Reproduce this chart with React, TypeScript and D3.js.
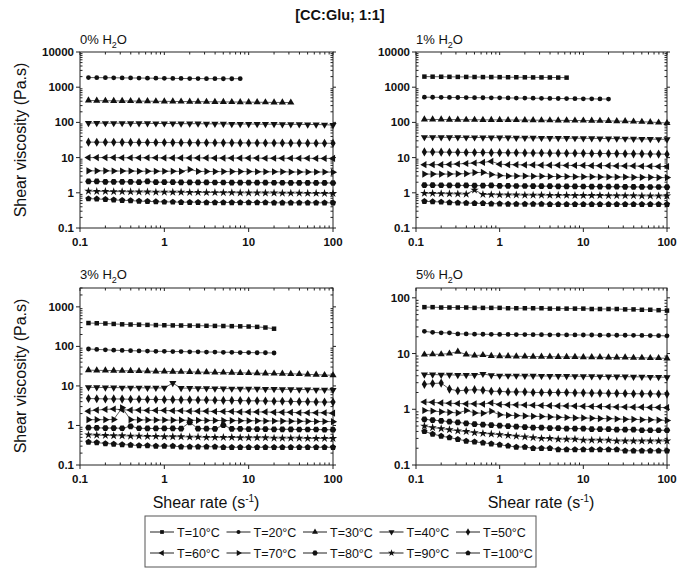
import React from 'react'
import * as d3 from 'd3'

// shear rate sweep (s^-1), ~10 points per decade
const shearRate = [0.126, 0.158, 0.2, 0.251, 0.316, 0.398, 0.501, 0.631, 0.794, 1, 1.26, 1.58, 2, 2.51, 3.16, 3.98, 5.01, 6.31, 7.94, 10, 12.6, 15.8, 20, 25.1, 31.6, 39.8, 50.1, 63.1, 79.4, 100]

const temperatures = ['T=10°C', 'T=20°C', 'T=30°C', 'T=40°C', 'T=50°C', 'T=60°C', 'T=70°C', 'T=80°C', 'T=90°C', 'T=100°C']

const xTicks = [0.1, 1, 10, 100]

// viscosity (Pa.s), one row per temperature; null = not measured
const water0 = [
  null,
  [1880, 1870, 1860, 1850, 1840, 1830, 1820, 1810, 1800, 1790, 1780, 1770, 1760, 1760, 1750, 1750, 1740, 1740, 1750],
  [420, 415, 412, 410, 407, 405, 402, 400, 398, 396, 394, 392, 390, 388, 386, 384, 382, 380, 378, 376, 374, 372, 370, 368, 366],
  [96, 96, 95, 95, 95, 94, 94, 94, 93, 93, 93, 92, 92, 92, 91, 91, 91, 90, 90, 90, 89, 89, 89, 88, 88, 88, 87, 87, 86, 84],
  [27.5, 27.4, 27.3, 27.2, 27.1, 27, 27, 26.9, 26.8, 26.8, 26.7, 26.6, 26.6, 26.5, 26.4, 26.4, 26.3, 26.3, 26.2, 26.1, 26.1, 26, 26, 25.9, 25.8, 25.8, 25.7, 25.6, 25.6, 25.5],
  [10, 10, 10, 10, 9.9, 9.9, 9.9, 9.9, 9.9, 9.8, 9.8, 9.8, 9.8, 9.8, 9.8, 9.7, 9.7, 9.7, 9.7, 9.7, 9.7, 9.6, 9.6, 9.6, 9.6, 9.6, 9.6, 9.5, 9.5, 9.5],
  [4.2, 4.2, 4.2, 4.15, 4.15, 4.15, 4.1, 4.1, 4.1, 4.1, 4.1, 4.05, 4.6, 4.05, 4.05, 4, 4, 4, 4, 4, 3.95, 3.95, 3.95, 3.95, 3.9, 3.9, 3.9, 3.9, 3.9, 3.85],
  [2.1, 2.1, 2.05, 2.05, 2.05, 2.05, 2, 2.1, 2, 2, 2, 1.98, 1.98, 1.97, 1.97, 1.96, 1.96, 1.95, 1.95, 1.95, 1.94, 1.94, 1.93, 1.93, 1.92, 1.92, 1.92, 1.91, 1.91, 1.9],
  [1.12, 1.1, 1.1, 1.08, 1.08, 1.07, 1.06, 1.06, 1.05, 1.05, 1.04, 1.04, 1.03, 1.03, 1.02, 1.02, 1.01, 1.01, 1, 1, 1, 0.99, 0.99, 0.98, 0.98, 0.98, 0.97, 0.97, 0.96, 0.96],
  [0.68, 0.67, 0.65, 0.63, 0.61, 0.6, 0.58, 0.57, 0.56, 0.55, 0.55, 0.54, 0.54, 0.54, 0.53, 0.53, 0.53, 0.53, 0.53, 0.53, 0.53, 0.53, 0.52, 0.52, 0.52, 0.52, 0.52, 0.52, 0.52, 0.52],
]

const water1 = [
  [2000, 1990, 1980, 1970, 1960, 1960, 1950, 1940, 1940, 1930, 1920, 1920, 1910, 1900, 1900, 1890, 1880, 1870],
  [520, 518, 515, 512, 510, 508, 505, 502, 500, 498, 495, 492, 490, 487, 484, 481, 478, 475, 472, 469, 466, 463, 460],
  [122, 121, 121, 120, 120, 119, 119, 118, 118, 118, 117, 117, 116, 116, 115, 115, 114, 114, 113, 113, 112, 111, 110, 109, 108, 106, 104, 102, 99, 96],
  [38, 38, 37.8, 37.6, 37.5, 37.4, 37.3, 37.2, 37, 36.9, 36.8, 36.6, 36.5, 36.4, 36.2, 36, 35.9, 35.7, 35.6, 35.4, 35.2, 35, 34.8, 34.6, 34.4, 34.2, 33.9, 33.6, 33.3, 33],
  [14.5, 14.4, 14.3, 14.2, 14.1, 14, 14, 13.9, 13.8, 13.8, 13.7, 13.7, 13.6, 13.5, 13.5, 13.4, 13.4, 13.3, 13.3, 13.2, 13.1, 13.1, 13, 13, 12.9, 12.8, 12.8, 12.7, 12.6, 12.5],
  [6.3, 6.3, 6.3, 6.4, 6.6, 6.8, 7, 7.3, 7.8, 6.5, 6.3, 6.3, 6.2, 6.2, 6.1, 6.1, 6.1, 6, 6, 6, 5.9, 5.9, 5.9, 5.8, 5.8, 5.8, 5.7, 5.7, 5.6, 5.6],
  [3.4, 3.4, 3.4, 3.4, 3.45, 3.5, 3.75, 3.8, 3.3, 3.1, 3, 3, 3, 2.95, 2.95, 2.9, 2.9, 2.9, 2.85, 2.85, 2.85, 2.8, 2.8, 2.8, 2.8, 2.75, 2.75, 2.75, 2.7, 2.7],
  [1.65, 1.65, 1.64, 1.63, 1.62, 1.62, 1.6, 1.6, 1.62, 1.58, 1.57, 1.56, 1.56, 1.55, 1.54, 1.54, 1.53, 1.52, 1.52, 1.51, 1.5, 1.5, 1.49, 1.49, 1.48, 1.47, 1.47, 1.46, 1.46, 1.45],
  [0.97, 0.96, 0.95, 0.94, 0.93, 0.92, 1.2, 0.9, 0.89, 0.88, 0.87, 0.87, 0.86, 0.86, 0.86, 0.85, 0.85, 0.85, 0.84, 0.84, 0.84, 0.84, 0.83, 0.83, 0.83, 0.83, 0.82, 0.82, 0.82, 0.82],
  [0.57, 0.56, 0.55, 0.53, 0.52, 0.51, 0.5, 0.5, 0.49, 0.49, 0.48, 0.48, 0.48, 0.48, 0.48, 0.47, 0.47, 0.47, 0.47, 0.47, 0.47, 0.47, 0.47, 0.47, 0.47, 0.47, 0.47, 0.47, 0.47, 0.47],
]

const water3 = [
  [390, 385, 380, 370, 362, 358, 355, 350, 346, 343, 340, 338, 336, 334, 332, 330, 328, 325, 322, 318, 312, 300, 280],
  [86, 84, 82, 80, 79, 78, 77, 76, 75, 75, 74, 74, 73, 73, 72, 72, 71, 71, 70, 70, 69, 69, 68],
  [25, 24.8, 24.6, 24.4, 24.2, 24, 23.8, 23.6, 23.4, 23.2, 23, 22.8, 22.6, 22.4, 22.2, 22, 21.8, 21.6, 21.4, 21.2, 21, 20.8, 20.6, 20.4, 20.2, 20, 19.6, 19.2, 18.9, 18.6],
  [9.2, 9.2, 9.1, 9.1, 9, 9, 9, 8.9, 8.9, 8.9, 11.8, 8.8, 8.8, 8.7, 8.7, 8.6, 8.6, 8.5, 8.5, 8.4, 8.4, 8.3, 8.3, 8.2, 8.2, 8.1, 8.1, 8, 8, 7.9],
  [4.8, 4.75, 4.7, 4.7, 4.65, 4.6, 4.6, 4.55, 4.55, 4.5, 4.5, 4.45, 4.45, 4.4, 4.4, 4.35, 4.3, 4.3, 4.25, 4.2, 4.2, 4.15, 4.1, 4.1, 4.05, 4, 4, 3.95, 3.9, 3.9],
  [2.3, 2.45, 2.55, 2.6, 2.5, 2.45, 2.45, 2.4, 2.4, 2.4, 2.35, 2.35, 2.3, 2.3, 2.3, 2.25, 2.25, 2.25, 2.2, 2.2, 2.2, 2.2, 2.15, 2.15, 2.15, 2.1, 2.1, 2.1, 2.1, 2.05],
  [1.4, 1.4, 1.4, 1.42, 2.8, 1.4, 1.38, 1.38, 1.37, 1.37, 1.36, 1.36, 1.35, 1.35, 1.34, 1.34, 1.33, 1.33, 1.32, 1.32, 1.31, 1.3, 1.3, 1.29, 1.28, 1.28, 1.27, 1.26, 1.26, 1.25],
  [0.88, 0.87, 0.86, 0.86, 0.85, 0.95, 0.85, 0.84, 0.84, 0.84, 0.84, 0.83, 1.2, 0.83, 0.83, 0.82, 1.02, 0.82, 0.82, 0.81, 0.81, 0.81, 0.8, 0.8, 0.8, 0.79, 0.79, 0.79, 0.78, 0.78],
  [0.58, 0.57, 0.56, 0.55, 0.55, 0.54, 0.54, 0.53, 0.53, 0.52, 0.52, 0.52, 0.51, 0.51, 0.5, 0.5, 0.5, 0.5, 0.49, 0.49, 0.49, 0.49, 0.48, 0.48, 0.48, 0.48, 0.47, 0.47, 0.47, 0.47],
  [0.38, 0.37, 0.35, 0.34, 0.33, 0.32, 0.31, 0.31, 0.3, 0.3, 0.3, 0.29, 0.29, 0.29, 0.29, 0.29, 0.28, 0.28, 0.28, 0.28, 0.28, 0.28, 0.28, 0.28, 0.28, 0.28, 0.28, 0.28, 0.28, 0.28],
]

const water5 = [
  [68, 68, 67, 67, 67, 67, 66, 66, 66, 66, 65, 65, 65, 65, 65, 64, 64, 64, 64, 64, 63, 63, 63, 63, 62, 62, 61, 61, 60, 59],
  [25, 24, 23.5, 23.5, 22.5, 22.5, 22.3, 22.2, 22.1, 22, 22, 21.9, 21.9, 21.8, 21.8, 21.7, 21.7, 21.6, 21.6, 21.5, 21.5, 21.4, 21.4, 21.3, 21.3, 21.2, 21.1, 21, 20.9, 20.8],
  [9.6, 9.7, 9.7, 10, 10.8, 9.6, 9.2, 9.4, 9.1, 9, 9, 8.9, 8.9, 8.8, 8.8, 8.8, 8.7, 8.7, 8.7, 8.6, 8.6, 8.6, 8.5, 8.5, 8.5, 8.4, 8.4, 8.3, 8.3, 8.2],
  [4.2, 4.2, 4.15, 4.15, 4.1, 4.1, 4.1, 4.3, 4.05, 4, 4, 4, 3.98, 3.97, 3.96, 3.95, 3.94, 3.93, 3.92, 3.9, 3.9, 3.88, 3.87, 3.86, 3.85, 3.83, 3.82, 3.8, 3.78, 3.75],
  [2.8, 2.9, 2.95, 2.3, 2.15, 2.2, 2.25, 2.2, 2.1, 2.1, 2.05, 2.05, 2.05, 2, 2, 2, 2, 2, 1.97, 1.97, 1.95, 1.95, 1.93, 1.93, 1.92, 1.9, 1.9, 1.9, 1.88, 1.87],
  [1.35, 1.33, 1.3, 1.28, 1.27, 1.25, 1.25, 1.24, 1.3, 1.22, 1.2, 1.2, 1.19, 1.18, 1.17, 1.16, 1.15, 1.15, 1.14, 1.13, 1.12, 1.12, 1.11, 1.1, 1.1, 1.09, 1.09, 1.08, 1.08, 1.07],
  [0.95, 0.93, 0.9, 0.88, 0.86, 0.95, 0.86, 0.85, 0.92, 0.8, 0.78, 0.77, 0.76, 0.75, 0.74, 0.73, 0.72, 0.71, 0.7, 0.7, 0.69, 0.68, 0.68, 0.67, 0.66, 0.66, 0.65, 0.65, 0.64, 0.63],
  [0.66, 0.64, 0.62, 0.6, 0.58, 0.56, 0.54, 0.53, 0.52, 0.51, 0.5, 0.49, 0.48, 0.47, 0.47, 0.46, 0.46, 0.45, 0.45, 0.45, 0.44, 0.44, 0.44, 0.43, 0.43, 0.43, 0.42, 0.42, 0.42, 0.42],
  [0.5, 0.47, 0.45, 0.43, 0.41, 0.4, 0.38, 0.37, 0.36, 0.35, 0.34, 0.33, 0.32, 0.31, 0.3, 0.3, 0.29, 0.29, 0.29, 0.28, 0.28, 0.28, 0.28, 0.27, 0.27, 0.27, 0.27, 0.27, 0.27, 0.27],
  [0.4, 0.36, 0.33, 0.31, 0.29, 0.27, 0.26, 0.25, 0.24, 0.23, 0.22, 0.21, 0.21, 0.2, 0.2, 0.2, 0.19, 0.19, 0.19, 0.19, 0.19, 0.19, 0.19, 0.19, 0.18, 0.18, 0.18, 0.18, 0.18, 0.18],
]

const font = '"Liberation Sans", Arial, sans-serif'

// custom polygon symbols (hexagon, pentagon)
const polygon = (n: number, rot: number) => ({
  draw(ctx: any, size: number) {
    const r = Math.sqrt(size / (0.5 * n * Math.sin((2 * Math.PI) / n)))
    for (let i = 0; i < n; i++) {
      const a = rot + (i * 2 * Math.PI) / n
      const x = r * Math.sin(a), y = -r * Math.cos(a)
      if (i === 0) ctx.moveTo(x, y)
      else ctx.lineTo(x, y)
    }
    ctx.closePath()
  },
})

// marker per temperature: [symbol type, rotation, size]
const markers: [any, number, number][] = [
  [d3.symbolSquare, 0, 20],
  [d3.symbolCircle, 0, 18],
  [d3.symbolTriangle, 0, 22],
  [d3.symbolTriangle, 180, 22],
  [d3.symbolDiamond, 0, 24],
  [d3.symbolTriangle, -90, 22],
  [d3.symbolTriangle, 90, 22],
  [polygon(6, Math.PI / 6), 0, 28],
  [d3.symbolStar, 0, 22],
  [polygon(5, 0), 0, 26],
]

const Marker = ({ t, x, y, scale = 1 }: { t: number; x: number; y: number; scale?: number }) => {
  const [type, rot, size] = markers[t]
  const d = d3.symbol().type(type).size(size * scale)()
  return <path d={d || ''} transform={`translate(${x},${y}) rotate(${rot})`} fill="#111" />
}

const Panel = ({ p }: { p: any }) => {
  const x = d3.scaleLog().domain([0.1, 100]).range([p.x0, p.x1])
  const y = d3.scaleLog().domain([0.1, p.yMax]).range([p.y1, p.y0])
  const line = d3.line<number>().x((_, i) => x(shearRate[i])).y((v) => y(v))

  const yMajor = y.ticks().filter((v) => Math.abs(Math.log10(v) - Math.round(Math.log10(v))) < 1e-6)
  const yMinor = y.ticks().filter((v) => !yMajor.includes(v))
  const xMinor = x.ticks().filter((v) => !xTicks.includes(v))

  return (
    <g>
      <text x={p.x0} y={p.labelY} fontFamily={font} fontSize={13} fill="#111">
        {p.label}% H<tspan fontSize={9} dy={4}>2</tspan><tspan dy={-4}>O</tspan>
      </text>
      <g stroke="#222" strokeWidth={1}>
        {yMajor.map((v) => (
          <g key={'ym' + v}>
            <line x1={p.x0 - 4} x2={p.x0} y1={y(v)} y2={y(v)} />
            <line x1={p.x1} x2={p.x1 + 3} y1={y(v)} y2={y(v)} />
          </g>
        ))}
        {yMinor.map((v) => (
          <g key={'yn' + v}>
            <line x1={p.x0} x2={p.x0 + 2.5} y1={y(v)} y2={y(v)} />
            <line x1={p.x1 - 2.5} x2={p.x1} y1={y(v)} y2={y(v)} />
          </g>
        ))}
        {xTicks.map((v) => (
          <g key={'xm' + v}>
            <line x1={x(v)} x2={x(v)} y1={p.y1} y2={p.y1 + 4} />
            <line x1={x(v)} x2={x(v)} y1={p.y0} y2={p.y0 + 3} />
          </g>
        ))}
        {xMinor.map((v) => (
          <g key={'xn' + v}>
            <line x1={x(v)} x2={x(v)} y1={p.y1} y2={p.y1 - 2.5} />
            <line x1={x(v)} x2={x(v)} y1={p.y0} y2={p.y0 + 2.5} />
          </g>
        ))}
      </g>
      <rect x={p.x0} y={p.y0} width={p.x1 - p.x0} height={p.y1 - p.y0} fill="none" stroke="#222" strokeWidth={1} />
      {yMajor.map((v) => (
        <text key={'yl' + v} x={p.x0 - 6} y={y(v) + 4} textAnchor="end" fontFamily={font} fontWeight="bold" fontSize={11.5} fill="#111">
          {String(v)}
        </text>
      ))}
      {xTicks.map((v) => (
        <text key={'xl' + v} x={x(v)} y={p.y1 + 18} textAnchor="middle" fontFamily={font} fontWeight="bold" fontSize={11.5} fill="#111">
          {String(v)}
        </text>
      ))}
      {p.data.map((s: number[] | null, t: number) =>
        s ? (
          <g key={'s' + t}>
            <path d={line(s) || ''} fill="none" stroke="#333" strokeWidth={0.8} />
            {s.map((v, i) => (
              <Marker key={i} t={t} x={x(shearRate[i])} y={y(v)} />
            ))}
          </g>
        ) : null
      )}
    </g>
  )
}

const panels = [
  { label: '0', data: water0, yMax: 10000, x0: 80, x1: 333, y0: 52, y1: 228, labelY: 44 },
  { label: '1', data: water1, yMax: 10000, x0: 416, x1: 667, y0: 52, y1: 228, labelY: 44 },
  { label: '3', data: water3, yMax: 3000, x0: 80, x1: 333, y0: 288, y1: 465, labelY: 279 },
  { label: '5', data: water5, yMax: 150, x0: 416, x1: 667, y0: 288, y1: 465, labelY: 279 },
]

export default function App() {
  const legX = 145, legY = 516, legW = 391, legH = 51
  return (
    <svg width={679} height={572} style={{ position: 'absolute', left: 0, top: 0, background: '#fff' }}>
      <rect width={679} height={572} fill="#fff" />
      <text x={340} y={20} textAnchor="middle" fontFamily={font} fontWeight="bold" fontSize={14.5} fill="#111">
        [CC:Glu; 1:1]
      </text>
      {panels.map((p) => (
        <Panel key={p.label} p={p} />
      ))}
      {[140, 376].map((cy) => (
        <text key={cy} transform={`translate(26,${cy}) rotate(-90)`} textAnchor="middle" fontFamily={font} fontSize={16} fill="#111">
          Shear viscosity (Pa.s)
        </text>
      ))}
      {[206, 541].map((cx) => (
        <text key={cx} x={cx} y={508} textAnchor="middle" fontFamily={font} fontSize={16} fill="#111">
          Shear rate (s<tspan fontSize={10} dy={-6}>-1</tspan><tspan dy={6}>)</tspan>
        </text>
      ))}
      <rect x={legX} y={legY} width={legW} height={legH} fill="#fff" stroke="#555" strokeWidth={1} />
      {temperatures.map((name, t) => {
        const col = t % 5, row = Math.floor(t / 5)
        const lx = 150 + col * 76.5
        const ly = 532 + row * 21
        return (
          <g key={name}>
            <line x1={lx} x2={lx + 24} y1={ly} y2={ly} stroke="#222" strokeWidth={1} />
            <Marker t={t} x={lx + 12} y={ly} scale={0.7} />
            <text x={lx + 27} y={ly + 4.5} fontFamily={font} fontSize={12.5} fill="#111">
              {name}
            </text>
          </g>
        )
      })}
    </svg>
  )
}
